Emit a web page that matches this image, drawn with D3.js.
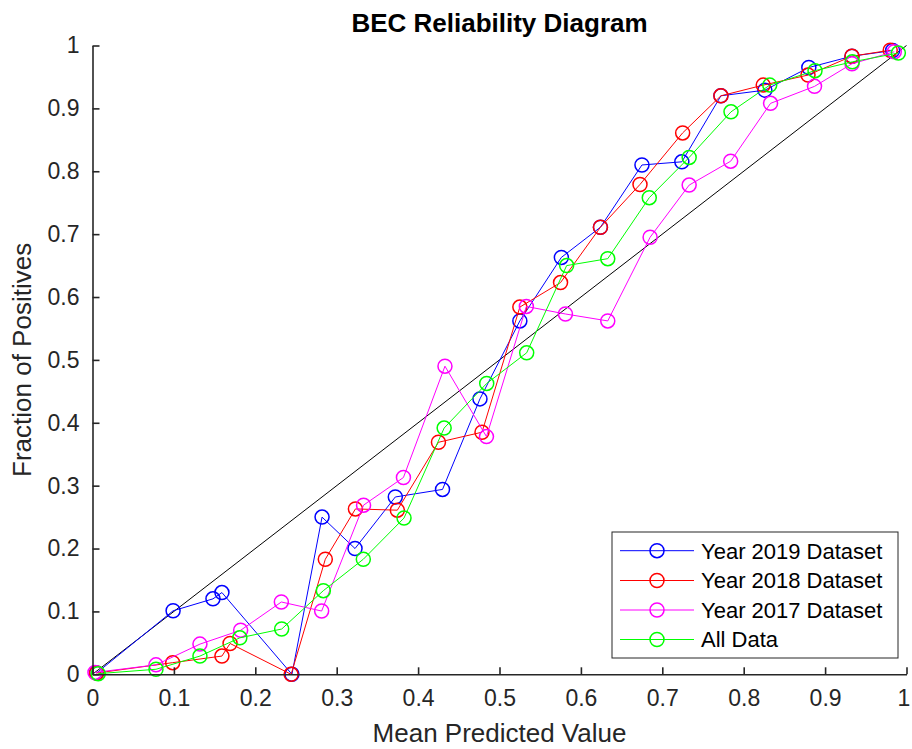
<!DOCTYPE html>
<html>
<head>
<meta charset="utf-8">
<script src="https://cdn.jsdelivr.net/npm/d3@7"></script>
<style>
  html, body { margin: 0; padding: 0; background: #fff; }
  svg { display: block; font-family: "Liberation Sans", Arial, sans-serif; }
</style>
</head>
<body>
<svg id="chart" width="912" height="749"></svg>
<script>
// Mean predicted value (x) and fraction of positives (y) per bin, per dataset
const x2019 = [0.005, 0.099, 0.148, 0.159, 0.245, 0.282, 0.3225, 0.372, 0.430, 0.476, 0.525, 0.576, 0.624, 0.675, 0.724, 0.772, 0.826, 0.880, 0.933, 0.983];
const y2019 = [0.002, 0.101, 0.120, 0.130, 0.000, 0.250, 0.200, 0.282, 0.294, 0.438, 0.562, 0.663, 0.711, 0.810, 0.815, 0.920, 0.929, 0.965, 0.983, 0.992];

const x2018 = [0.005, 0.0985, 0.159, 0.169, 0.244, 0.286, 0.323, 0.3745, 0.425, 0.4785, 0.525, 0.575, 0.624, 0.6726, 0.725, 0.772, 0.824, 0.879, 0.933, 0.980];
const y2018 = [0.002, 0.0185, 0.029, 0.049, 0.000, 0.183, 0.263, 0.261, 0.369, 0.385, 0.584, 0.623, 0.711, 0.779, 0.861, 0.920, 0.937, 0.953, 0.983, 0.9925];

const x2017 = [0.003, 0.078, 0.132, 0.182, 0.232, 0.2815, 0.333, 0.382, 0.433, 0.484, 0.533, 0.581, 0.633, 0.685, 0.733, 0.784, 0.833, 0.887, 0.933, 0.985];
const y2017 = [0.003, 0.015, 0.048, 0.070, 0.115, 0.1006, 0.269, 0.313, 0.490, 0.378, 0.585, 0.573, 0.562, 0.695, 0.778, 0.816, 0.908, 0.935, 0.971, 0.990];

const xAll = [0.007, 0.078, 0.132, 0.181, 0.2324, 0.2836, 0.3327, 0.3827, 0.432, 0.4843, 0.5334, 0.5825, 0.633, 0.684, 0.733, 0.7844, 0.832, 0.8876, 0.9334, 0.990];
const yAll = [0.001, 0.008, 0.029, 0.058, 0.072, 0.133, 0.183, 0.2485, 0.3916, 0.4626, 0.5113, 0.650, 0.661, 0.758, 0.822, 0.8945, 0.937, 0.960, 0.974, 0.988];

const seriesNames = ["Year 2019 Dataset", "Year 2018 Dataset", "Year 2017 Dataset", "All Data"];
const seriesColors = ["#0000ff", "#ff0000", "#ff00ff", "#00ff00"];
const seriesX = [x2019, x2018, x2017, xAll];
const seriesY = [y2019, y2018, y2017, yAll];

const tickValues = [0, 0.1, 0.2, 0.3, 0.4, 0.5, 0.6, 0.7, 0.8, 0.9, 1];
const tickLabels = ["0", "0.1", "0.2", "0.3", "0.4", "0.5", "0.6", "0.7", "0.8", "0.9", "1"];

const titleText = "BEC Reliability Diagram";
const xLabel = "Mean Predicted Value";
const yLabel = "Fraction of Positives";

// Layout
const margin = { left: 92.5, right: 5.5, top: 45.5, bottom: 74.7 };
const W = 912, H = 749;
const svg = d3.select("#chart");

const x = d3.scaleLinear().domain([0, 1]).range([margin.left, W - margin.right]);
const y = d3.scaleLinear().domain([0, 1]).range([H - margin.bottom, margin.top]);

const axisColor = "#262626";

// Perfect-calibration reference diagonal
svg.append("line")
  .attr("x1", x(0)).attr("y1", y(0))
  .attr("x2", x(1)).attr("y2", y(1))
  .attr("stroke", "#000").attr("stroke-width", 1);

// Series: lines with open circle markers
const line = d3.line().x(d => x(d[0])).y(d => y(d[1]));
seriesNames.forEach((name, i) => {
  const pts = seriesX[i].map((v, j) => [v, seriesY[i][j]]);
  const g = svg.append("g");
  g.append("path")
    .attr("d", line(pts))
    .attr("fill", "none")
    .attr("stroke", seriesColors[i])
    .attr("stroke-width", 1);
  g.selectAll("circle").data(pts).enter().append("circle")
    .attr("cx", d => x(d[0]))
    .attr("cy", d => y(d[1]))
    .attr("r", 7)
    .attr("fill", "none")
    .attr("stroke", seriesColors[i])
    .attr("stroke-width", 1.5);
});

// Axes with inward ticks
const fmt = (d) => tickLabels[tickValues.indexOf(d)];
const xAxis = d3.axisBottom(x).tickValues(tickValues).tickFormat(fmt)
  .tickSizeInner(-7).tickSizeOuter(0).tickPadding(15);
const yAxis = d3.axisLeft(y).tickValues(tickValues).tickFormat(fmt)
  .tickSizeInner(-7).tickSizeOuter(0).tickPadding(13);

const gx = svg.append("g").attr("transform", `translate(0,${y(0)})`).call(xAxis);
const gy = svg.append("g").attr("transform", `translate(${x(0)},0)`).call(yAxis);
[gx, gy].forEach(g => {
  g.select(".domain").attr("stroke", axisColor).attr("stroke-width", 1.6);
  g.selectAll(".tick line").attr("stroke", axisColor).attr("stroke-width", 1.6);
  g.selectAll(".tick text")
    .attr("fill", axisColor)
    .style("font-family", '"Liberation Sans", Arial, sans-serif')
    .style("font-size", "23px");
});
// keep the last x tick label inside the canvas
gx.selectAll(".tick text").filter(d => d === 1).attr("dx", -3);

// Title and axis labels
svg.append("text")
  .attr("x", (x(0) + x(1)) / 2).attr("y", 32)
  .attr("text-anchor", "middle")
  .attr("font-weight", "bold")
  .attr("font-size", 26)
  .attr("fill", "#000")
  .text(titleText);

svg.append("text")
  .attr("x", (x(0) + x(1)) / 2).attr("y", 742)
  .attr("text-anchor", "middle")
  .attr("font-size", 26)
  .attr("fill", axisColor)
  .text(xLabel);

svg.append("text")
  .attr("transform", `translate(31,${(y(0) + y(1)) / 2}) rotate(-90)`)
  .attr("text-anchor", "middle")
  .attr("font-size", 26)
  .attr("fill", axisColor)
  .text(yLabel);

// Legend
const lg = svg.append("g");
const lx = 612, ly = 532, lw = 286, lh = 126;
lg.append("rect")
  .attr("x", lx).attr("y", ly).attr("width", lw).attr("height", lh)
  .attr("fill", "#fff").attr("stroke", axisColor).attr("stroke-width", 1);
const rowY = [550.7, 580.5, 610, 639.5];
seriesNames.forEach((name, i) => {
  lg.append("line")
    .attr("x1", 620).attr("x2", 694)
    .attr("y1", rowY[i]).attr("y2", rowY[i])
    .attr("stroke", seriesColors[i]).attr("stroke-width", 1);
  lg.append("circle")
    .attr("cx", 657).attr("cy", rowY[i]).attr("r", 7)
    .attr("fill", "none").attr("stroke", seriesColors[i]).attr("stroke-width", 1.5);
  lg.append("text")
    .attr("x", 701).attr("y", rowY[i]).attr("dy", "0.36em")
    .attr("font-size", 22)
    .attr("fill", "#000")
    .text(name);
});
</script>
</body>
</html>
